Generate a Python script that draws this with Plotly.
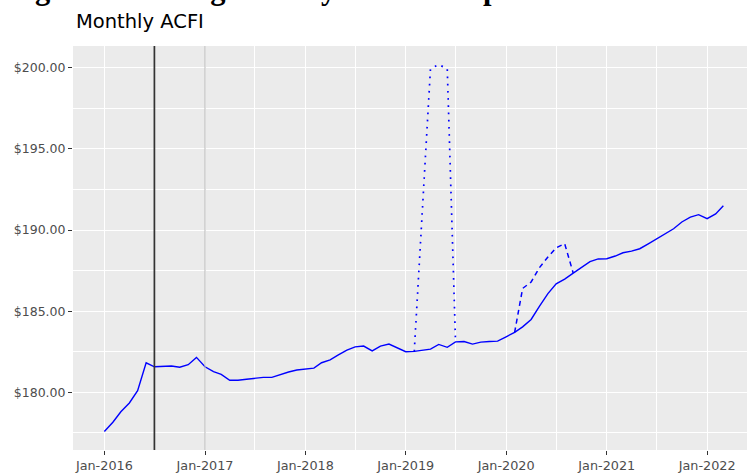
import plotly.graph_objects as go

# ---- data ----
months = [f"{y}-{m:02d}-01" for y in range(2016, 2023) for m in range(1, 13)][:75]
acfi = [
    177.58, 178.15, 178.80, 179.34, 180.10, 181.82, 181.57, 181.60, 181.62, 181.54, 181.70, 182.15,
    181.57, 181.27, 181.10, 180.74, 180.74, 180.80, 180.86, 180.92, 180.92, 181.10, 181.25, 181.37,
    181.41, 181.49, 181.82, 182.00, 182.30, 182.60, 182.80, 182.85, 182.55, 182.85, 182.97, 182.75,
    182.50, 182.52, 182.60, 182.66, 182.95, 182.77, 183.11, 183.13, 182.97, 183.09, 183.13, 183.15,
    183.42, 183.69, 184.03, 184.49, 185.30, 186.08, 186.68, 186.98, 187.35, 187.70, 188.05, 188.22,
    188.23, 188.40, 188.60, 188.70, 188.85, 189.15, 189.45, 189.75, 190.08, 190.50, 190.80, 190.95,
    190.70, 191.00, 191.50,
]

dotted_dates = ["2019-02-01", "2019-03-01", "2019-04-01", "2019-05-01", "2019-06-01", "2019-07-01"]
dotted_vals = [182.52, 191.00, 199.95, 200.20, 199.95, 183.11]

dashed_dates = ["2020-02-01", "2020-03-01", "2020-04-01", "2020-05-01",
                "2020-06-01", "2020-07-01", "2020-08-01", "2020-09-01"]
dashed_vals = [183.69, 186.40, 186.80, 187.68, 188.34, 188.91, 189.16, 187.35]

event_dates = ["2016-07-01", "2017-01-01"]
event_colors = ["#333333", "#BDBDBD"]

x_tickvals = [f"{y}-01-01" for y in range(2016, 2023)]
x_ticktext = [f"Jan-{y}" for y in range(2016, 2023)]
y_tickvals = [180, 185, 190, 195, 200]
y_ticktext = [f"${v:.2f}" for v in y_tickvals]

title_text = "Monthly ACFI"
heading_text = "Figure 5: Average weekly ACFI cost per resident"

# ---- figure ----
fig = go.Figure()
fig.add_trace(go.Scatter(x=dotted_dates, y=dotted_vals, mode="lines",
                         line=dict(color="#0000FF", width=1.7, dash="1.7px,5.5px"),
                         showlegend=False, hoverinfo="skip"))
fig.add_trace(go.Scatter(x=dashed_dates, y=dashed_vals, mode="lines",
                         line=dict(color="#0000FF", width=1.5, dash="5px,4px"),
                         showlegend=False, hoverinfo="skip"))
fig.add_trace(go.Scatter(x=months, y=acfi, mode="lines",
                         line=dict(color="#0000FF", width=1.4),
                         showlegend=False))

for d, c, w in zip(event_dates, event_colors, [1.7, 1.1]):
    fig.add_shape(type="line", xref="x", yref="paper", x0=d, x1=d, y0=0, y1=1,
                  line=dict(color=c, width=w), layer="above")

fig.add_annotation(text=title_text, xref="paper", yref="paper", x=0.0, y=1.0,
                   xanchor="left", yanchor="bottom", yshift=11, xshift=1,
                   showarrow=False, font=dict(family="DejaVu Sans", size=19.5, color="#000000"))
fig.add_annotation(text=f"<b>{heading_text}</b>", xref="paper", yref="paper", x=0.0, y=1.0,
                   xanchor="left", yanchor="middle", yshift=57, xshift=-67,
                   showarrow=False, font=dict(family="Liberation Serif", size=30.5, color="#000000"))

fig.update_layout(
    width=747, height=475,
    margin=dict(l=73, r=0, t=46, b=25),
    paper_bgcolor="#FFFFFF", plot_bgcolor="#EBEBEB",
    font=dict(family="DejaVu Sans", size=12.5, color="#4D4D4D"),
)
fig.update_xaxes(
    type="date", range=["2015-09-09", "2022-05-26"],
    tickvals=x_tickvals, ticktext=x_ticktext,
    showgrid=True, gridcolor="#FFFFFF", gridwidth=1.1,
    ticks="outside", ticklen=4, tickwidth=1.1, tickcolor="#333333",
    tickfont=dict(family="DejaVu Sans", size=12.8, color="#4D4D4D"),
    minor=dict(dtick="M6", tick0="2016-01-01", showgrid=True, gridcolor="#FFFFFF", gridwidth=0.55, ticklen=0),
    zeroline=False, showline=False,
)
fig.update_yaxes(
    range=[176.44, 201.35],
    tickvals=y_tickvals, ticktext=y_ticktext,
    showgrid=True, gridcolor="#FFFFFF", gridwidth=1.1,
    ticks="outside", ticklen=4, tickwidth=1.1, tickcolor="#333333",
    tickfont=dict(family="DejaVu Sans", size=12.5, color="#4D4D4D"),
    minor=dict(dtick=2.5, tick0=0, showgrid=True, gridcolor="#FFFFFF", gridwidth=0.55, ticklen=0),
    zeroline=False, showline=False,
)

fig.write_html("out.html", config={"displayModeBar": False},
               post_script="document.body.style.margin='0';document.body.style.overflow='hidden';")
